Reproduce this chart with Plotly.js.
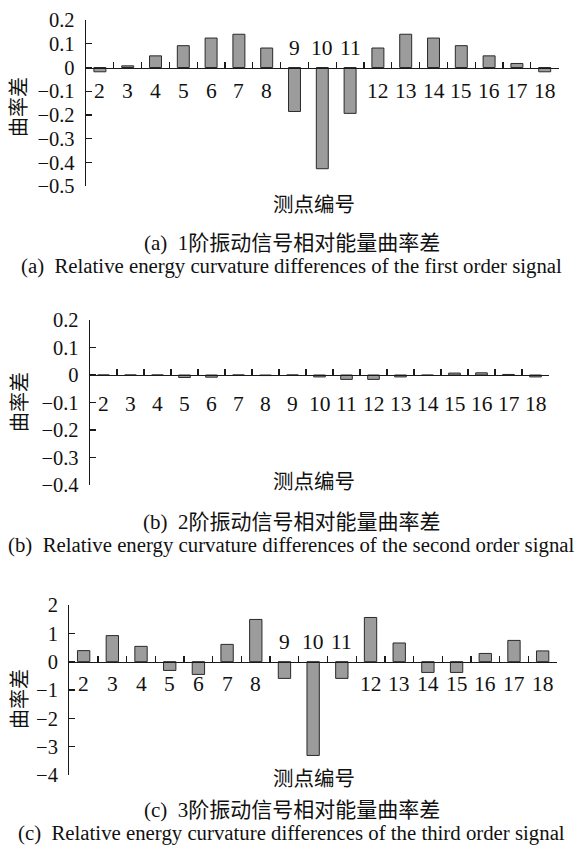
<!DOCTYPE html>
<html><head><meta charset="utf-8">
<script src="https://cdn.plot.ly/plotly-3.0.1.min.js"></script>
<style>html,body{margin:0;padding:0;background:#fff}#chart{width:583px;height:848px}</style>
</head><body><div id="chart"></div>
<script>
// ---- data ----
const categories = [2,3,4,5,6,7,8,9,10,11,12,13,14,15,16,17,18];
const curvDiff1 = [-0.018,0.007,0.049,0.092,0.124,0.140,0.082,-0.185,-0.426,-0.193,0.082,0.140,0.124,0.092,0.049,0.017,-0.018];
const curvDiff2 = [0,0,0,-0.009,-0.008,0,-0.002,0,-0.007,-0.016,-0.016,-0.007,-0.001,0.007,0.008,0.002,-0.007];
const curvDiff3 = [0.39,0.92,0.54,-0.31,-0.45,0.61,1.49,-0.59,-3.31,-0.59,1.56,0.66,-0.38,-0.38,0.29,0.75,0.38];
const yTicks1 = [0.2,0.1,0,-0.1,-0.2,-0.3,-0.4,-0.5];
const yTickText1 = ['0.2','0.1','0','\u22120.1','\u22120.2','\u22120.3','\u22120.4','\u22120.5'];
const yTicks2 = [0.2,0.1,0,-0.1,-0.2,-0.3,-0.4];
const yTickText2 = ['0.2','0.1','0','\u22120.1','\u22120.2','\u22120.3','\u22120.4'];
const yTicks3 = [2,1,0,-1,-2,-3,-4];
const yTickText3 = ['2','1','0','\u22121','\u22122','\u22123','\u22124'];
const labelsAbove1 = [9,10,11];
const labelsAbove2 = [];
const labelsAbove3 = [9,10,11];
const yTitle = '曲率差';
const xTitle = '测点编号';
const captionCN = ['(a)\u00a0 1阶振动信号相对能量曲率差','(b)\u00a0 2阶振动信号相对能量曲率差','(c)\u00a0 3阶振动信号相对能量曲率差'];
const captionEN = ['(a)\u00a0 Relative energy curvature differences of the first order signal',
                   '(b)\u00a0 Relative energy curvature differences of the second order signal',
                   '(c)\u00a0 Relative energy curvature differences of the third order signal'];

// ---- layout helpers ----
const W = 583, H = 848;
const px = v => v / W;
const py = v => 1 - v / H;
const SERIF = 'Liberation Serif, Times New Roman, Noto Sans CJK SC, serif';
const CJK = 'Noto Sans CJK SC, sans-serif';

const panels = [
  {vals: curvDiff1, ticks: yTicks1, text: yTickText1, above: labelsAbove1, range: [-0.5, 0.2],
   xd: [86, 558.6], yd: [20, 186.3], below: 23, up: 20, yt: 107, xt: 203, c1: 243, c2: 266},
  {vals: curvDiff2, ticks: yTicks2, text: yTickText2, above: labelsAbove2, range: [-0.4, 0.2],
   xd: [90, 549], yd: [320, 485], below: 29, up: 20, yt: 402, xt: 480, c1: 522, c2: 545},
  {vals: curvDiff3, ticks: yTicks3, text: yTickText3, above: labelsAbove3, range: [-4, 2],
   xd: [69.3, 557], yd: [605, 775], below: 22, up: 20, yt: 699, xt: 777, c1: 810, c2: 833}
];

const data = [];
const layout = {
  width: W, height: H, margin: {l: 0, r: 0, t: 0, b: 0},
  paper_bgcolor: '#fff', plot_bgcolor: 'rgba(0,0,0,0)', showlegend: false,
  annotations: []
};

panels.forEach((p, i) => {
  const n = i === 0 ? '' : String(i + 1);
  data.push({
    type: 'bar', x: categories, y: p.vals, xaxis: 'x' + n, yaxis: 'y' + n,
    width: 0.43, marker: {color: '#9c9c9c', line: {color: '#2a2a2a', width: 1}},
    hoverinfo: 'skip'
  });
  const y0 = py(p.yd[1]), y1 = py(p.yd[0]);
  const zeroPos = y0 + (0 - p.range[0]) / (p.range[1] - p.range[0]) * (y1 - y0);
  const bounds = categories.map(c => c + 0.5);
  layout['xaxis' + n] = {
    domain: [px(p.xd[0]), px(p.xd[1])], range: [categories[0] - 0.5, categories[categories.length - 1] + 0.5],
    anchor: 'free', position: zeroPos, showline: true, linecolor: '#1a1a1a', linewidth: 1.3,
    ticks: 'inside', ticklen: 6, tickwidth: 1.3, tickcolor: '#1a1a1a',
    tickmode: 'array', tickvals: bounds, showticklabels: false,
    showgrid: false, zeroline: false, fixedrange: true
  };
  layout['yaxis' + n] = {
    domain: [y0, y1], range: p.range, anchor: 'x' + n,
    showline: true, linecolor: '#1a1a1a', linewidth: 1.3,
    ticks: 'inside', ticklen: 6, tickwidth: 1.3, tickcolor: '#1a1a1a',
    tickmode: 'array', tickvals: p.ticks, ticktext: p.text,
    tickfont: {family: SERIF, size: 20.5, color: '#111'}, ticklabelstandoff: 6,
    showgrid: false, zeroline: false, fixedrange: true
  };
  categories.forEach(c => {
    const up = p.above.includes(c);
    layout.annotations.push({
      xref: 'x' + n, yref: 'y' + n, x: c, y: 0, text: String(c), showarrow: false,
      yanchor: 'middle', yshift: up ? p.up : -p.below,
      font: {family: SERIF, size: 21.5, color: '#111'}
    });
  });
  layout.annotations.push({
    xref: 'paper', yref: 'paper', x: px(18), y: py(p.yt), text: yTitle, textangle: -90,
    showarrow: false, xanchor: 'center', yanchor: 'middle', font: {family: CJK, size: 20, color: '#111'}
  });
  layout.annotations.push({
    xref: 'paper', yref: 'paper', x: px(314), y: py(p.xt), text: xTitle,
    showarrow: false, xanchor: 'center', yanchor: 'middle', font: {family: CJK, size: 20.5, color: '#111'}
  });
  layout.annotations.push({
    xref: 'paper', yref: 'paper', x: px(292), y: py(p.c1), text: captionCN[i],
    showarrow: false, xanchor: 'center', yanchor: 'middle', font: {family: SERIF, size: 21, color: '#111'}
  });
  layout.annotations.push({
    xref: 'paper', yref: 'paper', x: px(291.5), y: py(p.c2), text: captionEN[i],
    showarrow: false, xanchor: 'center', yanchor: 'middle', font: {family: SERIF, size: 20.8, color: '#111'}
  });
});

Plotly.newPlot('chart', data, layout, {displayModeBar: false, staticPlot: true});
</script>
</body></html>
